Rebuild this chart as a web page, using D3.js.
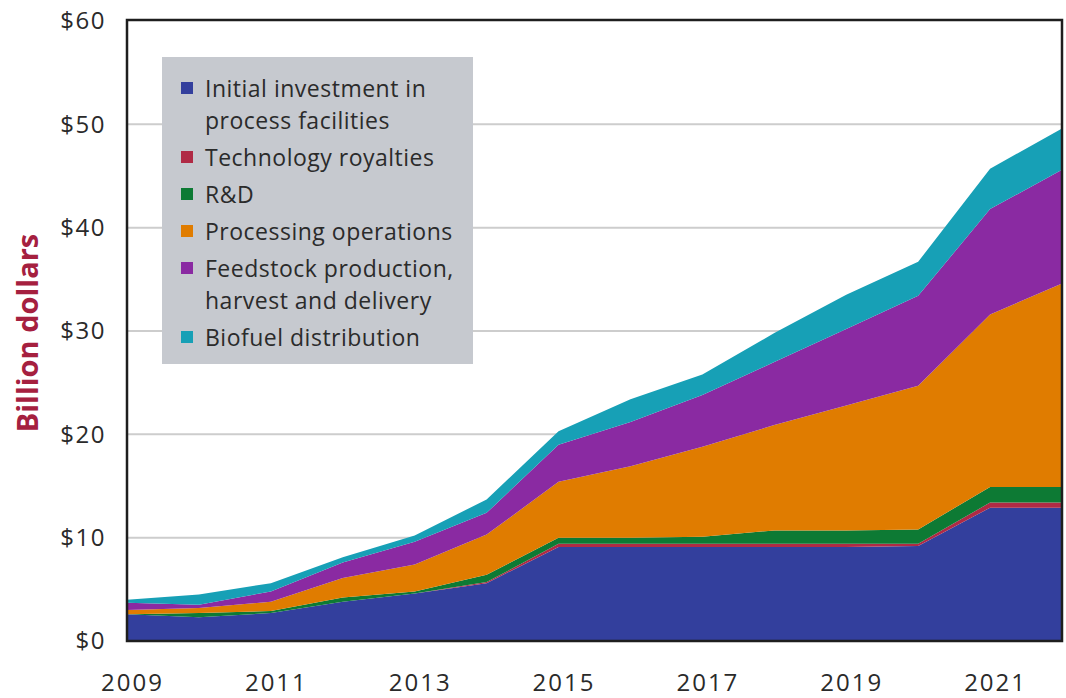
<!DOCTYPE html>
<meta charset="utf-8">
<style>
body { margin: 0; background: #fff; }
svg { display: block; background: #fff; }
.tick text { font-family: "Open Sans", sans-serif; fill: #2a2a2a; }
.legend text { font-family: "Open Sans", sans-serif; font-size: 23px; letter-spacing: 0.5px; fill: #2b2b2b; }
</style>
<svg width="1066" height="698"></svg>
<script src="https://d3js.org/d3.v7.min.js"></script>
<script>

// values, billion dollars per year
var years = [2009, 2010, 2011, 2012, 2013, 2014, 2015, 2016, 2017, 2018, 2019, 2020, 2021, 2022];
var investment = [2.6, 2.3, 2.7, 3.8, 4.6, 5.6, 9.1, 9.1, 9.1, 9.1, 9.1, 9.2, 12.9, 12.9];
var royalties  = [0, 0, 0, 0, 0, 0.1, 0.3, 0.3, 0.3, 0.3, 0.3, 0.2, 0.5, 0.5];
var rnd        = [0, 0.4, 0.2, 0.4, 0.2, 0.7, 0.6, 0.6, 0.7, 1.3, 1.3, 1.4, 1.5, 1.5];
var processing = [0.4, 0.5, 0.9, 1.9, 2.6, 3.9, 5.4, 6.9, 8.7, 10.2, 12.1, 13.9, 16.7, 19.7];
var feedstock  = [0.7, 0.3, 1.0, 1.5, 2.2, 2.1, 3.6, 4.3, 5.0, 6.1, 7.4, 8.7, 10.2, 11.0];
var distribution = [0.3, 1.0, 0.8, 0.5, 0.6, 1.3, 1.3, 2.2, 2.0, 2.8, 3.3, 3.3, 3.9, 4.0];

var yTicks = [0, 10, 20, 30, 40, 50, 60];
var xTicks = [2009, 2011, 2013, 2015, 2017, 2019, 2021];

var keys = ["investment", "royalties", "rnd", "processing", "feedstock", "distribution"];
var labels = {
  investment: ["Initial investment in", "process facilities"],
  royalties: ["Technology royalties"],
  rnd: ["R&D"],
  processing: ["Processing operations"],
  feedstock: ["Feedstock production,", "harvest and delivery"],
  distribution: ["Biofuel distribution"]
};
var colors = {
  investment: "#333f9d",
  royalties: "#b02a45",
  rnd: "#0d7a34",
  processing: "#e07c00",
  feedstock: "#8a2aa2",
  distribution: "#17a0b6"
};

var table = years.map(function(yr, i) {
  return {
    year: yr,
    investment: investment[i],
    royalties: royalties[i],
    rnd: rnd[i],
    processing: processing[i],
    feedstock: feedstock[i],
    distribution: distribution[i]
  };
});

var svg = d3.select("svg"),
    plotLeft = 127, plotRight = 1062, plotTop = 21, plotBottom = 641;

var x = d3.scaleLinear().domain([2009, 2022]).range([plotLeft, plotRight]);
var y = d3.scaleLinear().domain([0, 60]).range([plotBottom, plotTop]);

// gridlines
svg.append("g")
  .selectAll("line")
  .data(yTicks.filter(function(d) { return d > 0 && d < 60; }))
  .enter().append("line")
    .attr("x1", plotLeft).attr("x2", plotRight)
    .attr("y1", function(d) { return y(d); })
    .attr("y2", function(d) { return y(d); })
    .attr("stroke", "#cdcdcd")
    .attr("stroke-width", 2);

var series = d3.stack().keys(keys)(table);

var area = d3.area()
    .x(function(d) { return x(d.data.year); })
    .y0(function(d) { return y(d[0]); })
    .y1(function(d) { return y(d[1]); });

svg.append("g")
  .selectAll("path")
  .data(series)
  .enter().append("path")
    .attr("fill", function(d) { return colors[d.key]; })
    .attr("d", area);

// axes
svg.append("g")
    .attr("transform", "translate(" + (plotLeft - 18) + ",0)")
    .call(d3.axisLeft(y).tickValues(yTicks).tickSize(0).tickFormat(function(d) { return "$" + d; }))
    .call(function(g) { g.select(".domain").remove(); })
    .selectAll("text")
    .style("font-size", "24px")
    .style("letter-spacing", "1.5px");

svg.append("g")
    .attr("transform", "translate(5," + (plotBottom + 30) + ")")
    .call(d3.axisBottom(x).tickValues(xTicks).tickSize(0).tickFormat(d3.format("d")))
    .call(function(g) { g.select(".domain").remove(); })
    .selectAll("text")
    .style("font-size", "24px")
    .style("letter-spacing", "2px");

svg.append("text")
    .attr("transform", "translate(38,333) rotate(-90)")
    .attr("text-anchor", "middle")
    .style("font-family", "'Open Sans', sans-serif")
    .style("font-weight", "bold")
    .style("font-size", "29px")
    .style("fill", "#a5203f")
    .text("Billion dollars");

// frame
svg.append("rect")
    .attr("x", plotLeft).attr("y", plotTop - 1)
    .attr("width", plotRight - plotLeft).attr("height", plotBottom - plotTop + 1)
    .attr("fill", "none")
    .attr("stroke", "#1e1e1e")
    .attr("stroke-width", 2.5);

// legend
var legend = svg.append("g").attr("class", "legend");
legend.append("rect")
    .attr("x", 162).attr("y", 57)
    .attr("width", 311).attr("height", 307)
    .attr("fill", "#c6c9cf");

var ly = 89;
keys.forEach(function(k) {
  legend.append("rect")
      .attr("x", 181).attr("y", ly - 7)
      .attr("width", 12).attr("height", 12)
      .attr("fill", colors[k]);
  labels[k].forEach(function(line, j) {
    legend.append("text")
        .attr("x", 205).attr("y", ly + j * 32)
        .attr("dy", "0.35em")
        .text(line);
  });
  ly += (labels[k].length - 1) * 32 + 37;
});

</script>
